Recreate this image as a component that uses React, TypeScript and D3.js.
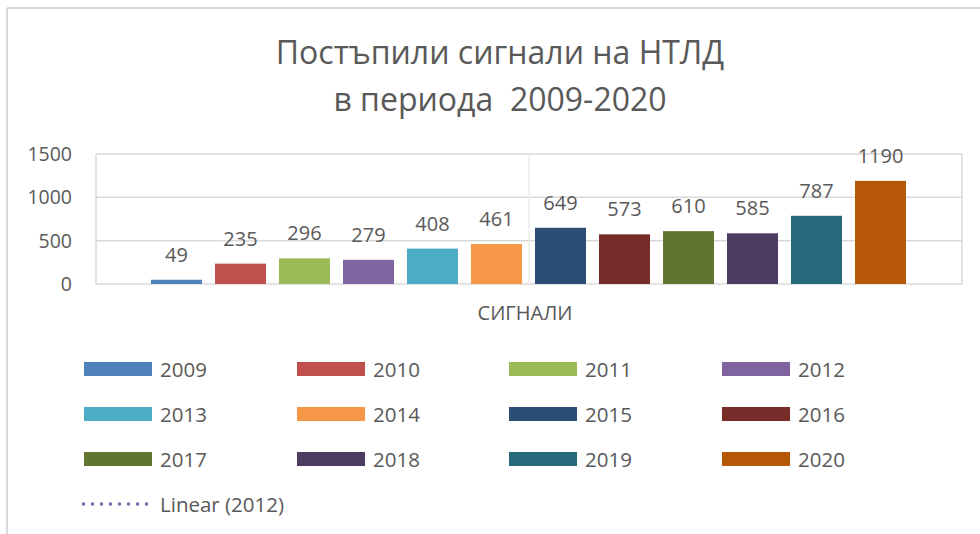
import React from "react";
import * as d3 from "d3";

const years = ["2009","2010","2011","2012","2013","2014","2015","2016","2017","2018","2019","2020"];
const values = [49, 235, 296, 279, 408, 461, 649, 573, 610, 585, 787, 1190];
const colors = ["#4f81bd","#c0504d","#9bbb59","#8064a2","#4bacc6","#f79646","#2c4d75","#772c2a","#5f7530","#4d3b62","#276a7c","#b65708"];
const yTicks = [0, 500, 1000, 1500];
const titleLines = ["Постъпили сигнали на НТЛД", "в периода  2009-2020"];
const categoryLabel = "СИГНАЛИ";
const trendLabel = "Linear (2012)";

const W = 980, H = 534;
const FONT = "'Open Sans', 'Noto Sans', sans-serif";
const TXT = "#595959";

export default function App() {
  const plot = { left: 96, right: 962, top: 154, bottom: 284 };
  const y = d3.scaleLinear().domain([0, 1500]).range([plot.bottom, plot.top]);
  const x = d3.scaleBand<string>().domain(years).range([144.5, 912.5]).paddingInner(13 / 64).paddingOuter(6.5 / 64);

  const legendCols = [84, 297, 509, 722];
  const legendRows = [369, 414, 459];

  return (
    <div style={{ position: "fixed", left: 0, top: 0, width: W, height: H, background: "#fff" }}>
      <svg width={W} height={H} style={{ display: "block" }} fontFamily={FONT}>
        <rect x={0} y={0} width={W} height={H} fill="#fff" />
        {/* chart border */}
        <line x1={7} x2={W} y1={8} y2={8} stroke="#d9d9d9" strokeWidth={2} />
        <line x1={7} x2={7} y1={8} y2={H} stroke="#d9d9d9" strokeWidth={2} />

        {/* title */}
        {titleLines.map((t, i) => (
          <text key={i} x={500} y={64 + i * 47} textAnchor="middle" fontSize={32} fill={TXT} style={{ whiteSpace: "pre" }}>
            {t}
          </text>
        ))}

        {/* gridlines */}
        {yTicks.map((t) => (
          <line key={t} x1={plot.left} x2={plot.right} y1={y(t)} y2={y(t)} stroke="#d9d9d9" strokeWidth={1.5} />
        ))}
        <line x1={plot.left} x2={plot.left} y1={plot.top} y2={plot.bottom} stroke="#d9d9d9" strokeWidth={1.5} />
        <line x1={plot.right} x2={plot.right} y1={plot.top} y2={plot.bottom} stroke="#d9d9d9" strokeWidth={1.5} />
        <line x1={529} x2={529} y1={plot.top} y2={plot.bottom} stroke="#ececec" strokeWidth={1.5} />

        {/* y tick labels */}
        {yTicks.map((t) => (
          <text key={t} x={72} y={y(t) + 7} textAnchor="end" fontSize={19.5} fill={TXT}>
            {t}
          </text>
        ))}

        {/* bars */}
        {years.map((yr, i) => (
          <g key={yr}>
            <rect x={x(yr)} y={y(values[i])} width={x.bandwidth()} height={plot.bottom - y(values[i])} fill={colors[i]} />
            <text x={(x(yr) as number) + x.bandwidth() / 2} y={y(values[i]) - 18} textAnchor="middle" fontSize={20} fill={TXT}>
              {values[i]}
            </text>
          </g>
        ))}

        {/* category label */}
        <text x={525} y={320} textAnchor="middle" fontSize={20} fill={TXT}>
          {categoryLabel}
        </text>

        {/* legend */}
        {years.map((yr, i) => {
          const cx = legendCols[i % 4];
          const cy = legendRows[Math.floor(i / 4)];
          return (
            <g key={yr}>
              <rect x={cx} y={cy - 7} width={68} height={14} fill={colors[i]} />
              <text x={cx + 76} y={cy + 7.5} fontSize={20.5} fill={TXT}>
                {yr}
              </text>
            </g>
          );
        })}
        <line x1={83.5} x2={147} y1={504} y2={504} stroke={colors[3]} strokeWidth={3.5} strokeDasharray="0 9" strokeLinecap="round" />
        <text x={160} y={511.5} fontSize={20.5} fill={TXT}>
          {trendLabel}
        </text>
      </svg>
    </div>
  );
}
